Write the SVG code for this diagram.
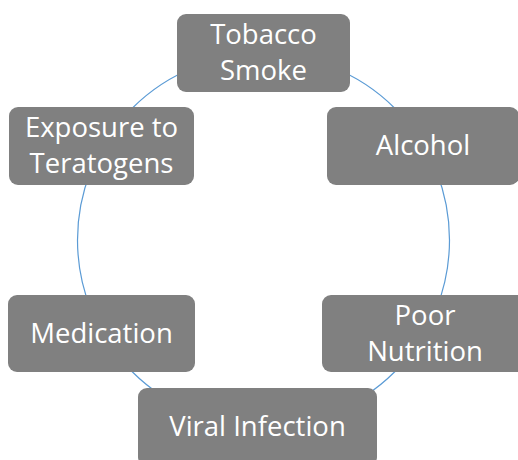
<svg xmlns="http://www.w3.org/2000/svg" width="518" height="460" viewBox="0 0 518 460">
  <style>
    .box { fill: #808080; }
    .lbl { font-family: "Open Sans", "Noto Sans", "Liberation Sans", sans-serif; font-size: 27.5px; fill: #ffffff; text-anchor: middle; }
    .ring { fill: none; stroke: #5B9BD5; stroke-width: 1.2; }
  </style>
  <rect width="518" height="460" fill="#ffffff"/>
  <g id="connectors">
    <circle class="ring" cx="263.5" cy="240" r="186"/>
  </g>
  <g id="tobacco-smoke">
    <rect class="box" x="177" y="14" width="173" height="78" rx="9"/>
    <text class="lbl" x="263.5" y="44">Tobacco</text>
    <text class="lbl" x="263.5" y="80">Smoke</text>
  </g>
  <g id="alcohol">
    <rect class="box" x="327" y="107" width="192" height="78" rx="9"/>
    <text class="lbl" x="423" y="155">Alcohol</text>
  </g>
  <g id="poor-nutrition">
    <rect class="box" x="322" y="295" width="206" height="77" rx="9"/>
    <text class="lbl" x="425" y="325">Poor</text>
    <text class="lbl" x="425" y="361">Nutrition</text>
  </g>
  <g id="viral-infection">
    <rect class="box" x="138" y="388" width="239" height="78" rx="9"/>
    <text class="lbl" x="257.5" y="436">Viral Infection</text>
  </g>
  <g id="medication">
    <rect class="box" x="8" y="295" width="187" height="77" rx="9"/>
    <text class="lbl" x="101.5" y="343">Medication</text>
  </g>
  <g id="exposure-to-teratogens">
    <rect class="box" x="9" y="107" width="185" height="78" rx="9"/>
    <text class="lbl" x="101.5" y="137">Exposure to</text>
    <text class="lbl" x="101.5" y="173">Teratogens</text>
  </g>
</svg>
